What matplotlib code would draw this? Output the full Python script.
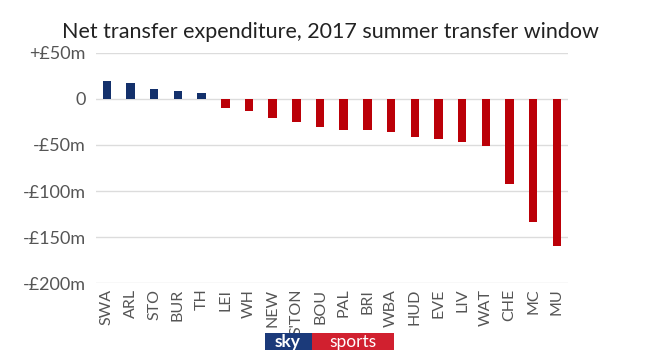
import matplotlib
matplotlib.use("Agg")
import matplotlib.pyplot as plt
from matplotlib.patches import Rectangle

# Net transfer spend per club, summer 2017 (£m)
clubs = ['SWA', 'ARL', 'STO', 'BUR', 'TH', 'LEI', 'WH', 'NEW', "S'TON", 'BOU',
         'PAL', 'BRI', 'WBA', 'HUD', 'EVE', 'LIV', 'WAT', 'CHE', 'MC', 'MU']
net_spend = [19, 17.4, 10.8, 9, 6.5, -9.5, -13, -21, -25, -30,
             -33.4, -34, -36, -41, -43, -46.4, -51.5, -92.8, -133.7, -160]
y_ticks = [50, 0, -50, -100, -150, -200]
y_labels = ['+£50m', '0', '-£50m', '-£100m', '-£150m', '-£200m']

plt.rcParams['font.family'] = ['Lato', 'DejaVu Sans']

fig = plt.figure(figsize=(6.6, 3.5), dpi=100)
ax = fig.add_axes([0.145, 0.191, 0.716, 0.658])

colors = ['#13306b' if v > 0 else '#bb0008' for v in net_spend]
ax.bar(range(len(clubs)), net_spend, width=0.36, color=colors, zorder=3)

ax.set_xlim(-0.47, len(clubs) - 0.52)
ax.set_ylim(-200, 50)
ax.set_yticks(y_ticks)
ax.set_yticklabels(y_labels, fontsize=13, color='#555555')
ax.set_xticks(range(len(clubs)))
ax.set_xticklabels(clubs, rotation=90, fontsize=11.5, color='#555555')
ax.tick_params(length=0, pad=7)
ax.tick_params(axis='x', pad=4)

ax.grid(axis='y', color='#dcdcdc', linewidth=1, zorder=0)
for s in ax.spines.values():
    s.set_visible(False)

fig.text(0.5, 0.91, 'Net transfer expenditure, 2017 summer transfer window',
         ha='center', va='center', fontsize=15.5, color='#222222')

# sky sports badge
fig.patches.append(Rectangle((265 / 660, 0), 47 / 660, 17 / 350, transform=fig.transFigure,
                             fc='#1b3a7a', ec='none', figure=fig))
fig.patches.append(Rectangle((312 / 660, 0), 82 / 660, 17 / 350, transform=fig.transFigure,
                             fc='#d1202f', ec='none', figure=fig))
fig.text(288 / 660, 8.5 / 350, 'sky', ha='center', va='center', fontsize=12.5, fontweight='bold',
         color='white')
fig.text(353 / 660, 8.5 / 350, 'sports', ha='center', va='center', fontsize=12.5, color='white')

fig.savefig('out.png', dpi=100)
